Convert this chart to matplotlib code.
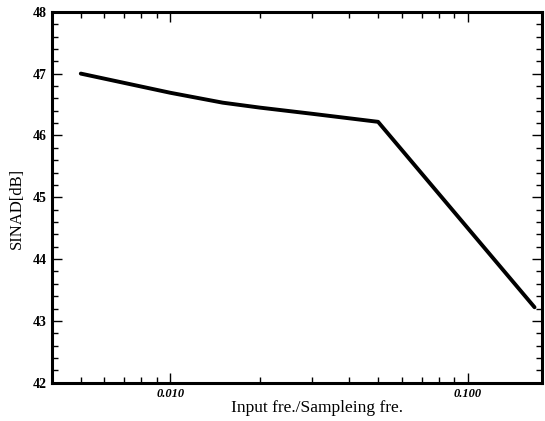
import matplotlib
matplotlib.use('Agg')

import matplotlib.pyplot as plt
from matplotlib.ticker import FixedLocator, LogLocator, NullFormatter, MultipleLocator

ratio = [0.005, 0.01, 0.015, 0.02, 0.03, 0.05, 0.168]
sinad = [47.0, 46.69, 46.53, 46.45, 46.35, 46.22, 43.22]
xtick_vals = [0.01, 0.1]
xtick_labels = ['0.010', '0.100']
ytick_vals = [42, 43, 44, 45, 46, 47, 48]

plt.rcParams['font.family'] = ['Liberation Serif', 'DejaVu Serif']

fig = plt.figure(figsize=(5.45, 4.21), dpi=100)
ax = fig.add_axes([0.0954, 0.091, 0.8991, 0.881])

ax.plot(ratio, sinad, color='black', linewidth=2.8, solid_capstyle='round')

ax.set_xscale('log')
ax.set_xlim(0.004, 0.178)
ax.set_ylim(42, 48)

ax.xaxis.set_major_locator(FixedLocator(xtick_vals))
ax.set_xticklabels(xtick_labels, fontweight='bold', fontstyle='italic', fontsize=9)
ax.xaxis.set_minor_locator(LogLocator(base=10, subs=range(2, 10)))
ax.xaxis.set_minor_formatter(NullFormatter())

ax.yaxis.set_major_locator(FixedLocator(ytick_vals))
ax.set_yticklabels([str(v) for v in ytick_vals], fontweight='bold', fontsize=10)
ax.yaxis.set_minor_locator(MultipleLocator(0.2))

ax.tick_params(which='both', direction='in', top=True, right=True, width=1.0)
ax.tick_params(which='major', length=7, pad=4)
ax.tick_params(which='minor', length=4)

for s in ax.spines.values():
  s.set_linewidth(2.2)

ax.set_xlabel('Input fre./Sampleing fre.', fontsize=12.5)
ax.xaxis.set_label_coords(0.54, -0.048)
ax.set_ylabel('SINAD[dB]', fontsize=12)
ax.yaxis.set_label_coords(-0.055, 0.47)

fig.savefig('out.png', dpi=100)
